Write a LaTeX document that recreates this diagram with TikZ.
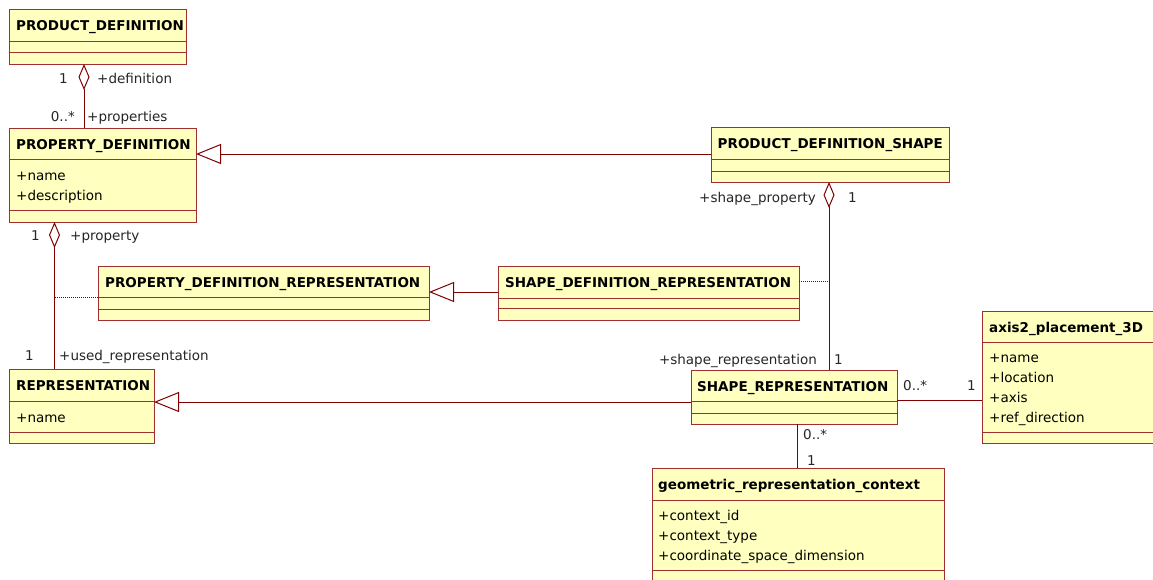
\documentclass[tikz,border=0pt]{standalone}
\usepackage{fontspec}
\setmainfont{DejaVu Sans}
\usetikzlibrary{arrows.meta,calc}
\definecolor{boxfill}{RGB}{255,255,192}
\definecolor{boxline}{RGB}{160,48,48}
\definecolor{conn}{RGB}{128,0,0}
\newcommand\umlsep[2]{\draw[sepl] ($(#1.north west)+(0,#2)$) -- ($(#1.north east)+(0,#2)$);}
\begin{document}
\begin{tikzpicture}[x=1pt,y=-1pt,
 cls/.style={draw=boxline,fill=boxfill,line width=1pt,rectangle,inner sep=0pt,outer sep=0pt,anchor=north west},
 ttl/.style={font=\fontsize{13.5}{16}\selectfont\bfseries,anchor=base west,inner sep=0pt},
 attr/.style={font=\fontsize{13.5}{16}\selectfont,anchor=base west,inner sep=0pt},
 lbl/.style={font=\fontsize{13.5}{16}\selectfont,inner sep=0pt,text=black!85},
 sepl/.style={draw=boxline,line width=1pt},
 conline/.style={draw=conn,line width=1pt},
 agg/.style={conline,{Diamond[open,length=26pt,width=11pt]}-},
 gen/.style={conline,-{Triangle[open,length=25pt,width=20pt]}},
 dotl/.style={draw=conn,line width=1pt,dash pattern=on 1pt off 1pt}
]
\fill[white] (0,0) rectangle (1153,579);
\clip (0,0) rectangle (1153,579);

% classes
\node[cls,minimum width=177pt,minimum height=55pt] (pd) at (9,9) {};
\umlsep{pd}{32}\umlsep{pd}{43}
\node[ttl] (pdt) at ($(pd.north west)+(7,21)$) {PRODUCT\_DEFINITION};

\node[cls,minimum width=187pt,minimum height=94pt] (propdef) at (9,128) {};
\umlsep{propdef}{31}\umlsep{propdef}{82}
\node[ttl] (propdeft) at ($(propdef.north west)+(7,21)$) {PROPERTY\_DEFINITION};
\node[attr] (propdefa1) at ($(propdef.north west)+(7,52)$) {+name};
\node[attr] (propdefa2) at ($(propdef.north west)+(7,72)$) {+description};

\node[cls,minimum width=238pt,minimum height=55pt] (pds) at (711,127) {};
\umlsep{pds}{32}\umlsep{pds}{44}
\node[ttl] (pdst) at ($(pds.north west)+(6.5,21)$) {PRODUCT\_DEFINITION\_SHAPE};

\node[cls,minimum width=301pt,minimum height=54pt] (sdr) at (498,266) {};
\umlsep{sdr}{32}\umlsep{sdr}{42}
\node[ttl] (sdrt) at ($(sdr.north west)+(7,21)$) {SHAPE\_DEFINITION\_REPRESENTATION};

\node[cls,minimum width=331pt,minimum height=54pt] (pdr) at (98,266) {};
\umlsep{pdr}{31}\umlsep{pdr}{43}
\node[ttl] (pdrt) at ($(pdr.north west)+(7,21)$) {PROPERTY\_DEFINITION\_REPRESENTATION};

\node[cls,minimum width=145pt,minimum height=74pt] (rep) at (9,369) {};
\umlsep{rep}{32}\umlsep{rep}{63}
\node[ttl] (rept) at ($(rep.north west)+(7,21)$) {REPRESENTATION};
\node[attr] (repa1) at ($(rep.north west)+(7,53)$) {+name};

\node[cls,minimum width=206pt,minimum height=54pt] (sr) at (691,370) {};
\umlsep{sr}{31}\umlsep{sr}{43}
\node[ttl] (srt) at ($(sr.north west)+(6,21)$) {SHAPE\_REPRESENTATION};

\node[cls,minimum width=190pt,minimum height=132pt] (ax) at (982,311) {};
\umlsep{ax}{31}\umlsep{ax}{121}
\node[ttl] (axt) at ($(ax.north west)+(7,21)$) {axis2\_placement\_3D};
\node[attr] (axa1) at ($(ax.north west)+(7,51)$) {+name};
\node[attr] (axa2) at ($(ax.north west)+(7,71)$) {+location};
\node[attr] (axa3) at ($(ax.north west)+(7,91)$) {+axis};
\node[attr] (axa4) at ($(ax.north west)+(7,111)$) {+ref\_direction};

\node[cls,minimum width=292pt,minimum height=122pt] (grc) at (652,468) {};
\umlsep{grc}{32}\umlsep{grc}{102}
\node[ttl] (grct) at ($(grc.north west)+(6,21)$) {geometric\_representation\_context};
\node[attr] (grca1) at ($(grc.north west)+(6,52)$) {+context\_id};
\node[attr] (grca2) at ($(grc.north west)+(6,72)$) {+context\_type};
\node[attr] (grca3) at ($(grc.north west)+(6,92)$) {+coordinate\_space\_dimension};

% connectors
\draw[agg] ($(pd.south west)+(75,0)$) -- ($(propdef.north west)+(75,0)$);
\draw[gen] ($(pds.north west)+(0,27)$) -- ($(propdef.north east)+(0,26)$);
\draw[agg] ($(pds.south west)+(118,0)$) -- ($(sr.north west)+(138,0)$);
\draw[gen] ($(sdr.north west)+(0,26)$) -- ($(pdr.north east)+(0,26)$);
\draw[dotl] ($(sdr.north east)+(0,15)$) -- ($(sdr.north east)+(30,15)$);
\draw[agg] ($(propdef.south west)+(45.5,0)$) -- ($(rep.north west)+(45.5,0)$);
\draw[dotl] ($(pdr.north west)+(0,31)$) -- ($(pdr.north west)+(-44.5,31)$);
\draw[gen] ($(sr.north west)+(0,32)$) -- ($(rep.north east)+(0,33)$);
\draw[conline] ($(sr.north east)+(0,30)$) -- ($(ax.north west)+(0,89)$);
\draw[conline] ($(sr.south west)+(106.5,0)$) -- ($(grc.north west)+(145.5,0)$);

% labels
\node[lbl,anchor=base east] (l1) at (68,83) {1};
\node[lbl,anchor=base west] (l2) at (97,83) {+definition};
\node[lbl,anchor=base east] (l3) at (75,121) {0..*};
\node[lbl,anchor=base west] (l4) at (87,121) {+properties};
\node[lbl,anchor=base east] (l5) at (40,240) {1};
\node[lbl,anchor=base west] (l6) at (70,240) {+property};
\node[lbl,anchor=base east] (l7) at (34,360) {1};
\node[lbl,anchor=base west] (l8) at (59,360) {+used\_representation};
\node[lbl,anchor=base east] (l9) at (816,202) {+shape\_property};
\node[lbl,anchor=base west] (l10) at (848,202) {1};
\node[lbl,anchor=base east] (l11) at (817,364) {+shape\_representation};
\node[lbl,anchor=base west] (l12) at (834,364) {1};
\node[lbl,anchor=base west] (l13) at (903,390) {0..*};
\node[lbl,anchor=base east] (l14) at (976,390) {1};
\node[lbl,anchor=base west] (l15) at (803,439) {0..*};
\node[lbl,anchor=base west] (l16) at (807,465) {1};
\end{tikzpicture}
\end{document}
